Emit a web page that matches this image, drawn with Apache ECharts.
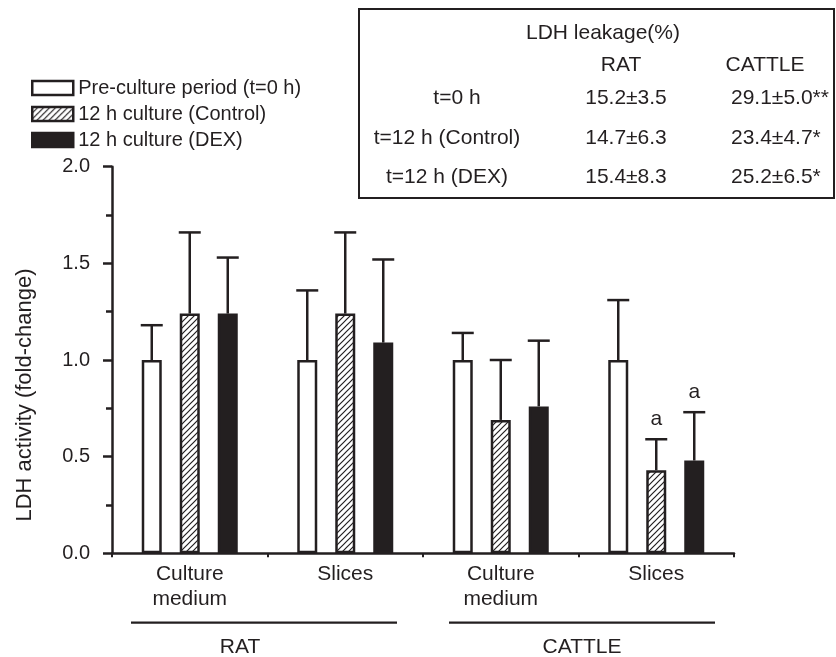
<!DOCTYPE html>
<html>
<head>
<meta charset="utf-8">
<script src="https://cdn.jsdelivr.net/npm/echarts@6/dist/echarts.min.js"></script>
<style>
html,body{margin:0;padding:0;background:#fff;}
#main{width:836px;height:657px;}
</style>
</head>
<body>
<div id="main"></div>
<script>
// ---- data ----
const categories = ['Culture\nmedium', 'Slices', 'Culture\nmedium', 'Slices'];
const seriesNames = ['Pre-culture period (t=0 h)', '12 h culture (Control)', '12 h culture (DEX)'];
const preValues  = [1.00, 1.00, 1.00, 1.00];
const preErr     = [0.18, 0.36, 0.14, 0.31];
const ctrlValues = [1.24, 1.24, 0.69, 0.43];
const ctrlErr    = [0.42, 0.42, 0.31, 0.16];
const dexValues  = [1.24, 1.09, 0.76, 0.48];
const dexErr     = [0.29, 0.43, 0.34, 0.25];
const ctrlMarks  = ['', '', '', 'a'];
const dexMarks   = ['', '', '', 'a'];
const groupNames = ['RAT', 'CATTLE'];
const yTicks = [0, 0.5, 1.0, 1.5, 2.0];
const yAxisName = 'LDH activity (fold-change)';
const tableTitle = 'LDH leakage(%)';
const tableCols = ['RAT', 'CATTLE'];
const tableRows = ['t=0 h', 't=12 h (Control)', 't=12 h (DEX)'];
const ratLeak = ['15.2±3.5', '14.7±6.3', '15.4±8.3'];
const cattleLeak = ['29.1±5.0**', '23.4±4.7*', '25.2±6.5*'];

// ---- style ----
const INK = '#231f20';
const FONT = '"Liberation Sans", Arial, Helvetica, sans-serif';

const pc = document.createElement('canvas');
pc.width = 6; pc.height = 6;
const g = pc.getContext('2d');
g.fillStyle = '#fff'; g.fillRect(0, 0, 6, 6);
g.strokeStyle = INK; g.lineWidth = 1.2;
g.beginPath();
g.moveTo(-1, 7); g.lineTo(7, -1);
g.moveTo(-1, 1); g.lineTo(1, -1);
g.moveTo(5, 7); g.lineTo(7, 5);
g.stroke();
const hatch = { image: pc, repeat: 'repeat' };

const chart = echarts.init(document.getElementById('main'), null, { renderer: 'canvas' });

const PITCH = 38;
function errRender(slot, marks) {
  return function (params, api) {
    const idx = api.value(0), val = api.value(1), err = api.value(2);
    const base = api.coord([idx, val]);
    const top = api.coord([idx, val + err]);
    const x = base[0] + (slot - 1) * PITCH;
    const half = 11;
    const children = [
      { type: 'line', shape: { x1: x, y1: base[1], x2: x, y2: top[1] }, style: { stroke: INK, lineWidth: 2.5 } },
      { type: 'line', shape: { x1: x - half, y1: top[1], x2: x + half, y2: top[1] }, style: { stroke: INK, lineWidth: 2.5 } }
    ];
    const m = marks && marks[params.dataIndex];
    if (m) {
      children.push({ type: 'text', x: x, y: top[1] - 20,
        style: { text: m, fill: INK, fontSize: 21, fontFamily: FONT, align: 'center', verticalAlign: 'middle' } });
    }
    return { type: 'group', children: children };
  };
}

function barSeries(name, values, color) {
  return {
    name: name, type: 'bar', data: values, barWidth: 20, barGap: '90%',
    itemStyle: { color: color, borderColor: INK, borderWidth: 2.5 },
    emphasis: { disabled: true }
  };
}
function errSeries(values, errs, slot, marks) {
  return {
    type: 'custom', z: 5, silent: true,
    data: values.map((v, i) => [i, v, errs[i]]),
    encode: { x: 0, y: 1 },
    renderItem: errRender(slot, marks)
  };
}

function txt(x, y, s, align, size) {
  return { type: 'text', x: x, y: y,
    style: { text: s, align: align || 'center', verticalAlign: 'middle', fill: INK, fontSize: size || 21, fontFamily: FONT } };
}

const graphics = [
  { type: 'rect', shape: { x: 359, y: 9, width: 475, height: 189 }, style: { fill: '#fff', stroke: INK, lineWidth: 2 }, z: -1 },
  txt(603, 33, tableTitle),
  txt(621, 65, tableCols[0]),
  txt(765, 65, tableCols[1])
];
const rowY = [98, 138, 177];
const rowX = [457, 447, 447];
tableRows.forEach((r, i) => {
  graphics.push(txt(rowX[i], rowY[i], r));
  graphics.push(txt(626, rowY[i], ratLeak[i]));
  graphics.push(txt(731, rowY[i], cattleLeak[i], 'left'));
});
graphics.push({ type: 'line', shape: { x1: 131, y1: 622.7, x2: 397, y2: 622.7 }, style: { stroke: INK, lineWidth: 2.3 } });
graphics.push({ type: 'line', shape: { x1: 449, y1: 622.7, x2: 715, y2: 622.7 }, style: { stroke: INK, lineWidth: 2.3 } });
graphics.push(txt(240, 647, groupNames[0]));
graphics.push(txt(582, 647, groupNames[1]));
graphics.push({ type: 'text', x: 25, y: 395, rotation: Math.PI / 2,
  style: { text: yAxisName, align: 'center', verticalAlign: 'middle', fill: INK, fontSize: 22, fontFamily: FONT } });

chart.setOption({
  animation: false,
  backgroundColor: '#fff',
  textStyle: { fontFamily: FONT, color: INK },
  grid: { left: 112, right: 102, top: 166.7, bottom: 103.7, containLabel: false },
  legend: {
    orient: 'vertical', left: 31, top: 78, padding: 0,
    icon: 'rect', itemWidth: 41, itemHeight: 14, itemGap: 6,
    selectedMode: false,
    itemStyle: { borderColor: INK, borderWidth: 2.5 },
    textStyle: { fontSize: 20, color: INK, fontFamily: FONT, lineHeight: 20 },
    data: seriesNames
  },
  xAxis: {
    type: 'category', data: categories,
    axisLine: { lineStyle: { color: INK, width: 2.5 } },
    axisTick: { show: true, length: 4, lineStyle: { color: INK, width: 2 } },
    axisLabel: { fontSize: 21, lineHeight: 25, color: INK, margin: 8, fontFamily: FONT, interval: 0 }
  },
  yAxis: {
    type: 'value', min: yTicks[0], max: yTicks[yTicks.length - 1], interval: 0.5,
    axisLine: { show: true, lineStyle: { color: INK, width: 2.5 } },
    axisTick: { show: true, length: 9, lineStyle: { color: INK, width: 2.5 } },
    minorTick: { show: true, splitNumber: 2, length: 6, lineStyle: { color: INK, width: 2.5 } },
    splitLine: { show: false },
    axisLabel: { fontSize: 20, color: INK, margin: 22, fontFamily: FONT, formatter: v => v.toFixed(1) }
  },
  graphic: graphics,
  series: [
    barSeries(seriesNames[0], preValues, '#ffffff'),
    barSeries(seriesNames[1], ctrlValues, hatch),
    barSeries(seriesNames[2], dexValues, INK),
    errSeries(preValues, preErr, 0, null),
    errSeries(ctrlValues, ctrlErr, 1, ctrlMarks),
    errSeries(dexValues, dexErr, 2, dexMarks)
  ]
});
</script>
</body>
</html>
